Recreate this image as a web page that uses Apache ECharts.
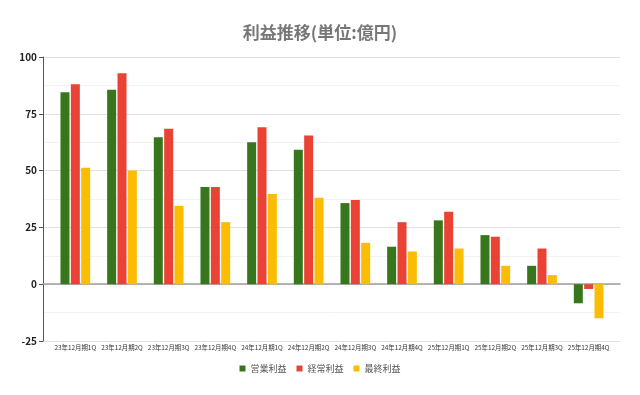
<!DOCTYPE html>
<html><head><meta charset="utf-8">
<script src="https://cdn.jsdelivr.net/npm/echarts@6/dist/echarts.min.js"></script>
<style>html,body{margin:0;padding:0;background:#fff}#c{width:640px;height:395px}</style>
</head><body><div id="c"></div>
<script>
const categories = ["23年12月期1Q","23年12月期2Q","23年12月期3Q","23年12月期4Q","24年12月期1Q","24年12月期2Q","24年12月期3Q","24年12月期4Q","25年12月期1Q","25年12月期2Q","25年12月期3Q","25年12月期4Q"];
const operatingProfit = [84.5, 85.6, 64.7, 42.8, 62.5, 59.2, 35.7, 16.5, 28.1, 21.6, 8.1, -8.4];
const ordinaryProfit = [88.0, 92.9, 68.4, 42.8, 69.1, 65.4, 37.1, 27.3, 31.9, 20.9, 15.7, -2.1];
const netProfit = [51.2, 50.0, 34.5, 27.3, 39.7, 38.1, 18.2, 14.4, 15.7, 8.1, 4.0, -15.0];
const seriesNames = ["営業利益", "経常利益", "最終利益"];
const yTicks = {min: -25, max: 100, interval: 25};

const FONT = '"Noto Sans CJK JP", "Noto Sans", sans-serif';
const chart = echarts.init(document.getElementById('c'), null, {renderer: 'canvas'});
const colors = ['#38761d', '#ea4335', '#fbbc04'];
const values = [operatingProfit, ordinaryProfit, netProfit];
chart.setOption({
  backgroundColor: '#fff',
  animation: false,
  textStyle: {fontFamily: FONT},
  title: {
    text: '利益推移(単位:億円)', left: 'center', top: 19,
    textStyle: {fontFamily: FONT, fontSize: 17, fontWeight: 'bold', color: '#777'}
  },
  legend: {
    data: seriesNames, bottom: 17, left: 'center', icon: 'rect',
    itemWidth: 6, itemHeight: 6, itemGap: 10,
    textStyle: {fontFamily: FONT, fontSize: 9, color: '#555'}
  },
  grid: [
    {left: 43, right: 20, top: 57, bottom: 54},
    {left: 52, right: 28, top: 57, bottom: 54}
  ],
  xAxis: [
    {gridIndex: 0, type: 'value', min: 0, max: 1,
     axisLine: {show: true, onZero: true, lineStyle: {color: '#9e9e9e', width: 1.5}},
     axisTick: {show: false}, axisLabel: {show: false}, splitLine: {show: false}},
    {gridIndex: 1, type: 'category', data: categories,
     axisLine: {show: false, onZero: false}, axisTick: {show: false},
     axisLabel: {interval: 0, fontSize: 6.4, color: '#333', margin: 3, fontFamily: FONT}}
  ],
  yAxis: [
    {gridIndex: 0, type: 'value', min: yTicks.min, max: yTicks.max, interval: yTicks.interval,
     axisLine: {show: true, lineStyle: {color: '#555'}},
     axisTick: {show: true, length: 4, lineStyle: {color: '#555'}},
     axisLabel: {fontSize: 10, fontWeight: 'bold', color: '#222', margin: 6, fontFamily: FONT},
     splitLine: {show: true, lineStyle: {color: '#e0e0e0'}},
     minorTick: {show: false, splitNumber: 2},
     minorSplitLine: {show: true, lineStyle: {color: '#f2f2f2'}}},
    {gridIndex: 1, type: 'value', min: yTicks.min, max: yTicks.max, interval: yTicks.interval, show: false}
  ],
  series: seriesNames.map((n, i) => ({
    name: n, type: 'bar', xAxisIndex: 1, yAxisIndex: 1,
    data: values[i], barWidth: 9, barGap: '15%',
    itemStyle: {color: colors[i]}
  }))
});
</script></body></html>
